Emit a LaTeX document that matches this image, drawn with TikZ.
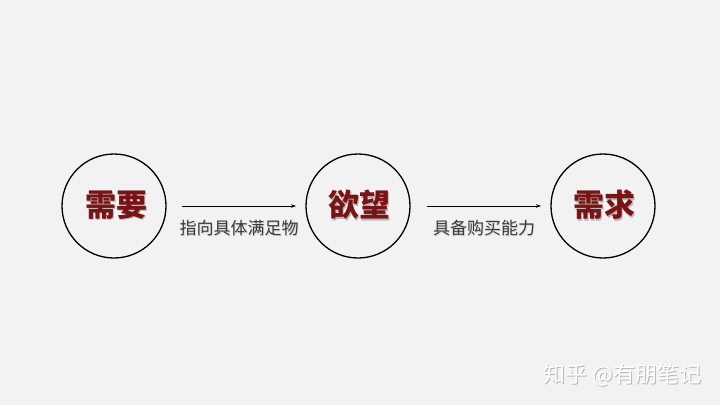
\documentclass[tikz,border=0pt]{standalone}
\usepackage{fontspec}
\newfontfamily\cjk{Noto Sans CJK SC}
\usetikzlibrary{arrows.meta}
\definecolor{bg}{HTML}{F2F2F2}
\definecolor{dred}{HTML}{7A1414}
\definecolor{lbl}{HTML}{3A3A3A}
\tikzset{
  ring/.style={circle, draw=black, line width=1.3pt, fill=bg, minimum size=104pt, inner sep=0pt},
  big/.style={font=\cjk\bfseries\fontsize{31}{31}\selectfont, text=dred},
  bigshadow/.style={font=\cjk\bfseries\fontsize{31}{31}\selectfont, text=black!28},
  lab/.style={font=\cjk\fontsize{17}{17}\selectfont, text=lbl},
  labshadow/.style={font=\cjk\fontsize{17}{17}\selectfont, text=black!18},
  conn/.style={draw=black, line width=0.8pt, -{Stealth[length=5pt,width=3.5pt]}},
  wm/.style={font=\cjk\fontsize{22}{22}\selectfont, text=white},
  wmshadow/.style={font=\cjk\fontsize{22}{22}\selectfont, text=black!28},
}
\begin{document}
\begin{tikzpicture}[x=1pt,y=-1pt]
\fill[bg] (0,0) rectangle (720,405);
\useasboundingbox (0,0) rectangle (720,405);
\node[ring] (c1) at (114,206) {};
\node[ring] (c2) at (358,206) {};
\node[ring] (c3) at (603,206) {};
\node[bigshadow] (s1) at (117.2,206.2) {需要};
\node[big] (t1) at (116,205) {需要};
\node[bigshadow] (s2) at (360.2,206.2) {欲望};
\node[big] (t2) at (359,205) {欲望};
\node[bigshadow] (s3) at (605.2,206.2) {需求};
\node[big] (t3) at (604,205) {需求};
\coordinate (a1s) at (182,206);
\coordinate (a1e) at (296,206);
\coordinate (a2s) at (427,206);
\coordinate (a2e) at (541,206);
\draw[conn] (a1s) -- (a1e);
\draw[conn] (a2s) -- (a2e);
\node[labshadow] (ls1) at (239.8,229.3) {指向具体满足物};
\node[lab] (l1) at (239,228.5) {指向具体满足物};
\node[labshadow] (ls2) at (484.8,229.3) {具备购买能力};
\node[lab] (l2) at (484,228.5) {具备购买能力};
\node[wmshadow, anchor=east] (ws) at (706,376) {知乎 @有朋笔记};
\node[wm, anchor=east] (w) at (705,375) {知乎 @有朋笔记};
\end{tikzpicture}
\end{document}
